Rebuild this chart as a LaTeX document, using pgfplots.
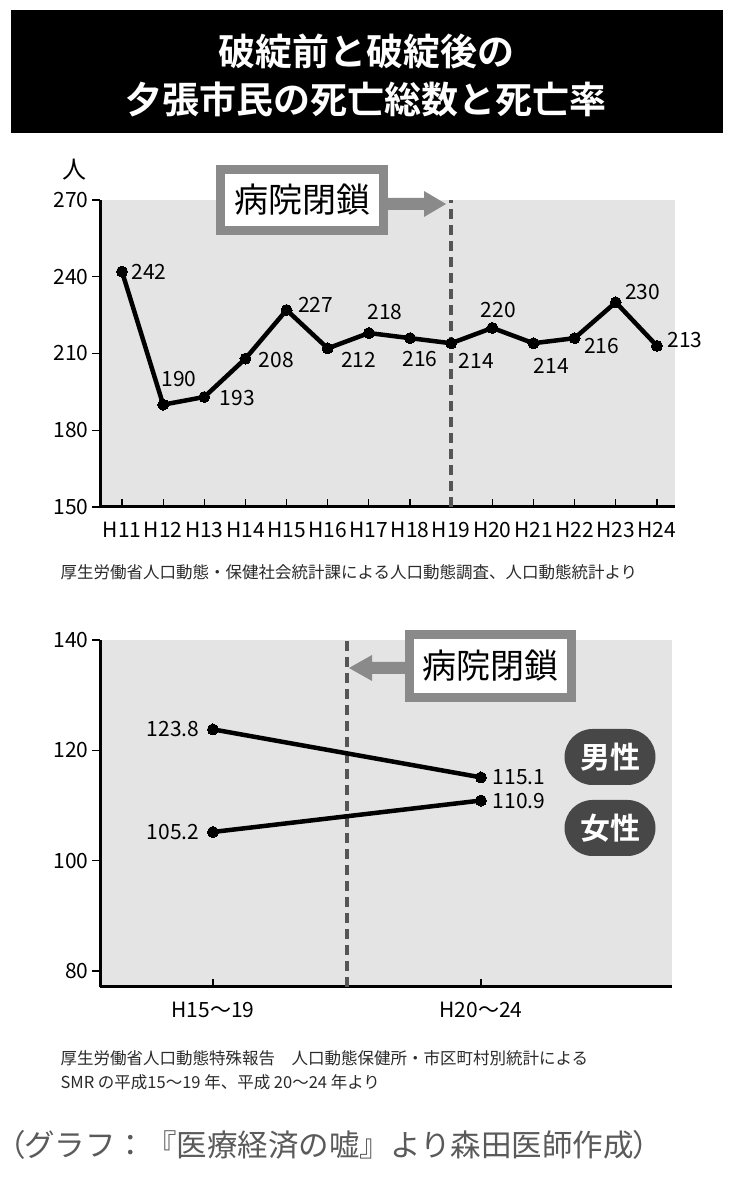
\documentclass[border=0pt]{standalone}
\usepackage{fontspec}
\setmainfont{Noto Sans CJK JP}[BoldFont={Noto Sans CJK JP Bold}]
\usepackage{pgfplots}
\usepackage{pgfplotstable}
\pgfplotsset{compat=1.18}
\usetikzlibrary{arrows.meta}
\definecolor{bggray}{HTML}{E4E4E4}
\definecolor{boxgray}{HTML}{8A8A8A}
\definecolor{dashgray}{HTML}{555555}
\definecolor{pill}{HTML}{474747}
\definecolor{captext}{HTML}{2A2A2A}
\definecolor{foot}{HTML}{5A5A5A}

\pgfplotstableread{
x y dx dy
0 242 27 0
1 190 16 26
2 193 33 -1
3 208 31 -1
4 227 29 5
5 212 31 -12
6 218 16 21
7 216 10 -21
8 214 25 -18
9 220 6 18
10 214 18 -23
11 216 27 -8
12 230 27 10
13 213 28 6
}\deaths

\pgfplotstableread{
x y dx dy
0 123.8 -40 0
1 115.1 38 0
}\male

\pgfplotstableread{
x y dx dy
0 105.2 -40 0
1 110.9 38 0
}\female

\pgfplotsset{
  lblstyle/.style={
    nodes near coords={\pgfplotspointmeta},
    point meta=explicit symbolic,
    visualization depends on={\thisrow{dx}\as\ldx},
    visualization depends on={\thisrow{dy}\as\ldy},
    every node near coord/.append style={anchor=center, inner sep=0pt,
      xshift=\ldx pt, yshift=\ldy pt, text=black,
      font=\fontsize{21}{23}\selectfont},
  },
  myaxis/.style={
    scale only axis, anchor=south west, clip=false,
    axis x line=bottom, axis y line=left,
    axis line style={-, line width=3pt, black},
    axis background/.style={fill=bggray},
    /pgf/number format/assume math mode=true,
    tick label style={font=\fontsize{21}{23}\selectfont, text=black},
    xticklabel style={yshift=-12pt},
    tick style={black, line width=1.2pt},
    xtick align=inside, ytick align=outside,
    major tick length=8pt,
  },
}

\newcommand{\pp}[1]{{\addfontfeature{RawFeature=+palt}#1}}

\begin{document}
\begin{tikzpicture}[x=1pt,y=1pt]
\useasboundingbox (0,0) rectangle (731,1181);
\fill[white] (0,0) rectangle (731,1181);
% title
\fill[black] (11,1048) rectangle (723,1171);
\node[text=white, font=\fontsize{37}{40}\selectfont\bfseries] at (366,1130) {破綻前と破綻後の};
\node[text=white, font=\fontsize{37}{40}\selectfont\bfseries] at (366,1082) {夕張市民の死亡総数と死亡率};

% top chart
\node[font=\fontsize{24}{26}\selectfont] at (74,1011) {人};
\begin{axis}[myaxis,
  at={(100pt,674pt)},
  width=575pt, height=307pt,
  xmin=-0.535, xmax=13.44, ymin=150, ymax=270,
  xtick={0,...,13},
  xticklabels={H11,H12,H13,H14,H15,H16,H17,H18,H19,H20,H21,H22,H23,H24},
  ytick={150,180,210,240,270},
]
\addplot[black, line width=4.5pt, mark=*, mark size=5.5pt, mark options={fill=black, line width=0pt}, lblstyle]
  table[x=x, y=y, meta=y] {\deaths};
\addplot[dashgray, line width=4pt, dash pattern=on 10pt off 6pt] coordinates {(8,150) (8,270)};
\end{axis}

% top box + arrow
\filldraw[fill=white, draw=boxgray, line width=9pt] (220.5,950.5) rectangle (383.5,1011.5);
\node[font=\fontsize{34}{36}\selectfont] at (302,981) {病院閉鎖};
\fill[boxgray] (388,971) -- (424,971) -- (424,964) -- (446,977) -- (424,990) -- (424,983) -- (388,983) -- cycle;

\node[anchor=west, text=captext, font=\fontsize{16.5}{18}\selectfont] at (57,609)
  {厚生労働省人口動態・保健社会統計課による人口動態調査、人口動態統計より};

% bottom chart
\begin{axis}[myaxis,
  at={(100pt,194pt)},
  width=572pt, height=347pt,
  xmin=-0.4216, xmax=1.713, ymin=77.1, ymax=140,
  xtick={0,1},
  xticklabels={H15～19,H20～24},
  ytick={80,100,120,140},
]
\addplot[dashgray, line width=4pt, dash pattern=on 10pt off 6pt] coordinates {(0.5,77.1) (0.5,140)};
\addplot[black, line width=4.5pt, mark=*, mark size=5.5pt, mark options={fill=black, line width=0pt}, lblstyle]
  table[x=x, y=y, meta=y] {\male};
\addplot[black, line width=4.5pt, mark=*, mark size=5.5pt, mark options={fill=black, line width=0pt}, lblstyle]
  table[x=x, y=y, meta=y] {\female};
\end{axis}

% bottom box + arrow
\filldraw[fill=white, draw=boxgray, line width=9pt] (409.5,483.5) rectangle (571.5,546.5);
\node[font=\fontsize{34}{36}\selectfont] at (490,515) {病院閉鎖};
\fill[boxgray] (405,507) -- (372,507) -- (372,500) -- (349,513) -- (372,526) -- (372,519) -- (405,519) -- cycle;

% pills
\node[fill=pill, rounded corners=28pt, minimum width=91pt, minimum height=56pt, inner sep=0pt,
  text=white, font=\fontsize{30}{32}\selectfont\bfseries] at (610,424) {男性};
\node[fill=pill, rounded corners=28pt, minimum width=91pt, minimum height=56pt, inner sep=0pt,
  text=white, font=\fontsize{30}{32}\selectfont\bfseries] at (610,353) {女性};

\node[anchor=west, text=captext, font=\fontsize{16.5}{18}\selectfont] at (57,123)
  {厚生労働省人口動態特殊報告　人口動態保健所・市区町村別統計による};
\node[anchor=west, text=captext, font=\fontsize{16.5}{18}\selectfont] at (57,99)
  {SMR の平成15～19 年、平成 20～24 年より};

\node[anchor=west, inner sep=0pt, text=foot, font=\fontsize{30.5}{33}\selectfont] at (9,36)
  {\pp{（}グラフ：『医療経済の嘘』より森田医師作成\pp{）}};
\end{tikzpicture}
\end{document}
